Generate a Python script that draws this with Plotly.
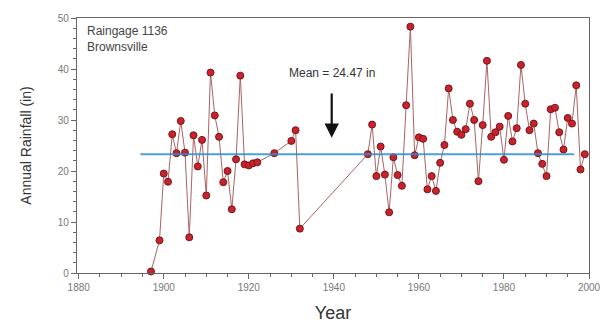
import plotly.graph_objects as go

years = [1897, 1899, 1900, 1901, 1902, 1903, 1904, 1905, 1906, 1907, 1908, 1909,
         1910, 1911, 1912, 1913, 1914, 1915, 1916, 1917, 1918, 1919, 1920, 1921,
         1922, 1926, 1930, 1931, 1932,
         1948, 1949, 1950, 1951, 1952, 1953, 1954, 1955, 1956, 1957, 1958, 1959,
         1960, 1961, 1962, 1963, 1964, 1965, 1966, 1967, 1968, 1969, 1970, 1971,
         1972, 1973, 1974, 1975, 1976, 1977, 1978, 1979, 1980, 1981, 1982, 1983,
         1984, 1985, 1986, 1987, 1988, 1989, 1990, 1991, 1992, 1993, 1994, 1995,
         1996, 1997, 1998, 1999]
rainfall = [0.3, 6.4, 19.5, 17.9, 27.2, 23.5, 29.8, 23.6, 7.0, 27.0, 20.9, 26.1,
            15.2, 39.3, 30.9, 26.7, 17.8, 20.0, 12.5, 22.3, 38.7, 21.3, 21.1, 21.5,
            21.7, 23.5, 25.9, 28.0, 8.7,
            23.3, 29.1, 19.0, 24.8, 19.3, 11.9, 22.7, 19.2, 17.1, 32.9, 48.3, 23.1,
            26.6, 26.3, 16.4, 19.0, 16.1, 21.6, 25.1, 36.2, 30.0, 27.7, 27.1, 28.2,
            33.2, 30.0, 18.0, 29.0, 41.6, 26.7, 27.6, 28.7, 22.2, 30.8, 25.8, 28.4,
            40.8, 33.2, 28.0, 29.3, 23.5, 21.4, 19.0, 32.1, 32.4, 27.6, 24.2, 30.4,
            29.3, 36.8, 20.3, 23.3]

mean_x = [1894.5, 1996.5]
mean_y = [23.3, 23.3]
mean_label = "Mean = 24.47 in"
station_label = "Raingage 1136<br>Brownsville"

FONT = "Liberation Sans, Arial, sans-serif"

fig = go.Figure()
fig.add_trace(go.Scatter(
    x=years, y=rainfall, mode="lines+markers",
    line=dict(color="#a86464", width=1),
    marker=dict(symbol="circle", size=7, color="#c8232c",
                line=dict(color="#7a1418", width=1)),
    showlegend=False, cliponaxis=False))
fig.add_trace(go.Scatter(
    x=mean_x, y=mean_y, mode="lines",
    line=dict(color="#2f8fcf", width=2),
    opacity=0.85, showlegend=False))

fig.add_annotation(x=1939.5, y=26.5, ax=1939.5, ay=35.5, xref="x", yref="y",
                   axref="x", ayref="y", showarrow=True, arrowhead=2,
                   arrowsize=1.3, arrowwidth=2.2, arrowcolor="#111", text="")
fig.add_annotation(x=1939.5, y=39.3, xref="x", yref="y", text=mean_label,
                   showarrow=False, font=dict(size=12, color="#333", family=FONT))
fig.add_annotation(x=1881.5, y=49.2, xref="x", yref="y", text=station_label,
                   showarrow=False, xanchor="left", yanchor="top", align="left",
                   font=dict(size=12, color="#444", family=FONT))

axis_common = dict(showline=True, linecolor="#666", linewidth=1.3, mirror=True,
                   showgrid=False, zeroline=False, ticks="outside",
                   ticklen=5, tickcolor="#666",
                   tickfont=dict(size=10, color="#777", family=FONT))

fig.update_xaxes(range=[1879.6, 2000], dtick=20, tick0=1880,
                 minor=dict(dtick=5, ticks="outside", ticklen=3, tickcolor="#666"),
                 title=dict(text="Year", standoff=14,
                            font=dict(size=18, color="#333", family=FONT)),
                 **axis_common)
fig.update_yaxes(range=[0, 50], dtick=10,
                 minor=dict(dtick=2, ticks="outside", ticklen=3, tickcolor="#666"),
                 title=dict(text="Annual Rainfall (in)", standoff=22,
                            font=dict(size=14, color="#333", family=FONT)),
                 **axis_common)

fig.update_layout(width=613, height=332, margin=dict(l=77, r=20, t=14, b=59),
                  plot_bgcolor="white", paper_bgcolor="white",
                  font=dict(family=FONT))
fig.write_html("out.html")
